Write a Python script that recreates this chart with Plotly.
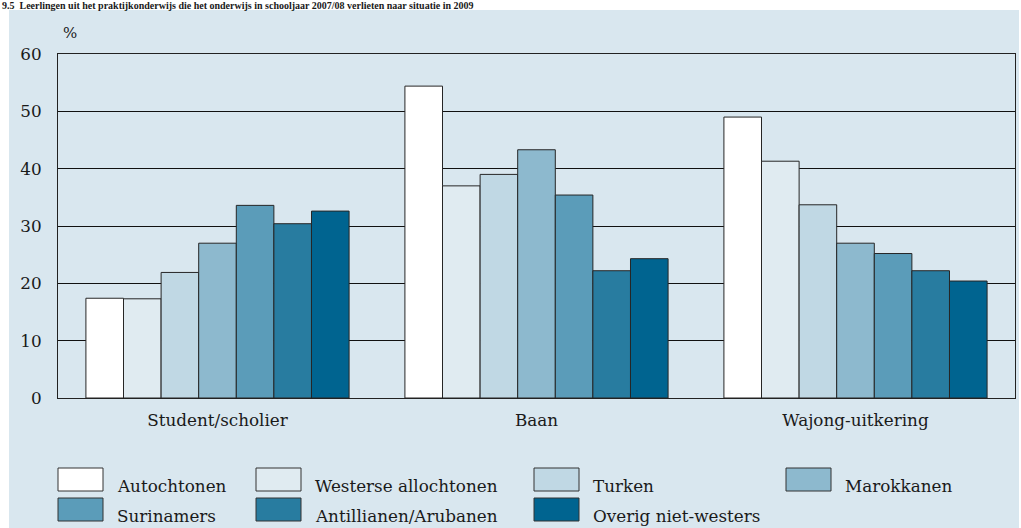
import plotly.graph_objects as go

# ---- data ----
categories = ["Student/scholier", "Baan", "Wajong-uitkering"]
series_names = ["Autochtonen", "Westerse allochtonen", "Turken", "Marokkanen",
                "Surinamers", "Antillianen/Arubanen", "Overig niet-westers"]
autochtonen = [17.4, 54.4, 49.0]
westerse = [17.3, 37.0, 41.3]
turken = [21.9, 39.0, 33.7]
marokkanen = [27.0, 43.3, 27.0]
surinamers = [33.6, 35.4, 25.2]
antillianen = [30.4, 22.2, 22.2]
overig = [32.6, 24.3, 20.4]
y_ticks = [0, 10, 20, 30, 40, 50, 60]
title_text = "9.5  Leerlingen uit het praktijkonderwijs die het onderwijs in schooljaar 2007/08 verlieten naar situatie in 2009"

values = [autochtonen, westerse, turken, marokkanen, surinamers, antillianen, overig]
colors = ["#ffffff", "#e0ebf1", "#c0d8e4", "#8db9ce", "#5b9cb9", "#287ca0", "#006490"]

FONT = "DejaVu Serif"
FS = 16.8
W, H = 1021, 528
L, R, T, B = 58, 6, 54, 130
PW, PH = W - L - R, H - T - B

fig = go.Figure()
for name, vals, col in zip(series_names, values, colors):
    fig.add_trace(go.Bar(
        x=categories, y=vals, name=name, marker_color=col,
        marker_line=dict(color="#262626", width=1), showlegend=False,
    ))

def px2paper(x, y):
    return (x - L) / PW, (H - B - y) / PH

shapes = []
annotations = []
# background panel
x0, y0 = px2paper(9, 530)
x1, y1 = px2paper(1019, 10)
shapes.append(dict(type="rect", xref="paper", yref="paper", x0=x0, y0=y0, x1=x1, y1=y1,
                   fillcolor="#d9e7ef", line=dict(width=0), layer="below"))

# legend (manual)
col_box_x = [58, 256, 534, 786]
row_box_y = [468, 498]
for i, (name, col) in enumerate(zip(series_names, colors)):
    r, c = (0, i) if i < 4 else (1, i - 4)
    bx, by = col_box_x[c], row_box_y[r]
    a0, b0 = px2paper(bx, by + 23)
    a1, b1 = px2paper(bx + 45, by)
    shapes.append(dict(type="rect", xref="paper", yref="paper", x0=a0, y0=b0, x1=a1, y1=b1,
                       fillcolor=col, line=dict(color="#333333", width=1)))
    tx, ty = px2paper(bx + 57, by + 18)
    annotations.append(dict(text=name, xref="paper", yref="paper", x=tx, y=ty,
                            xanchor="left", yanchor="middle", showarrow=False,
                            font=dict(family=FONT, size=FS, color="#1a1a1a")))

# % label
px_, py_ = px2paper(61, 33)
annotations.append(dict(text="%", xref="paper", yref="paper", x=px_, y=py_,
                        xanchor="left", yanchor="middle", showarrow=False,
                        font=dict(family=FONT, size=15, color="#1a1a1a")))
# title in the top strip
tx, ty = px2paper(1, 12)
annotations.append(dict(text="<b>" + title_text + "</b>", xref="paper", yref="paper", x=tx, y=ty,
                        xanchor="left", yanchor="bottom", showarrow=False, borderpad=0,
                        font=dict(family="Liberation Serif", size=10, color="#1a1a1a")))

fig.update_layout(
    width=W, height=H,
    margin=dict(l=L, r=R, t=T, b=B, pad=0),
    paper_bgcolor="#ffffff", plot_bgcolor="#ffffff",
    barmode="group", bargap=0.175, bargroupgap=0,
    font=dict(family=FONT, size=FS, color="#1a1a1a"),
    shapes=shapes, annotations=annotations,
    xaxis=dict(showline=True, linecolor="#222222", linewidth=1, mirror=True,
               ticks="", showgrid=False, ticklabelstandoff=7,
               tickfont=dict(family=FONT, size=FS, color="#1a1a1a")),
    yaxis=dict(range=[0, 60], tickvals=y_ticks, showline=True, linecolor="#222222",
               linewidth=1, mirror=True, showgrid=True, gridcolor="#111111", gridwidth=1,
               zeroline=False, ticks="", ticklabelstandoff=12,
               tickfont=dict(family=FONT, size=FS, color="#1a1a1a")),
)

fig.write_html("out.html", config={"displayModeBar": False},
               post_script="document.body.style.margin='0';document.body.style.overflow='hidden';")
